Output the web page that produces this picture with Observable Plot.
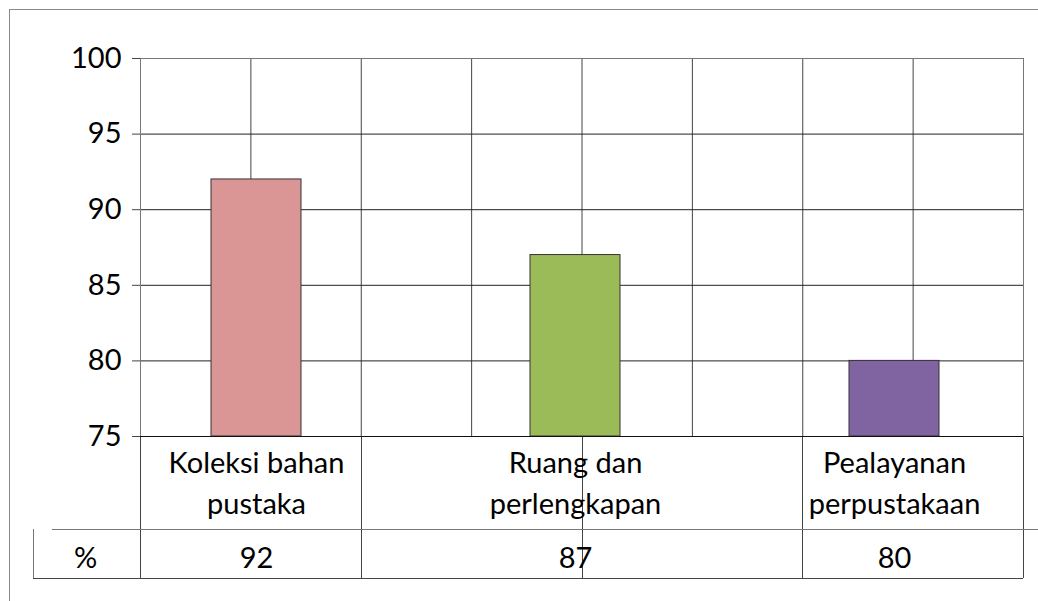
<!DOCTYPE html>
<html>
<head>
<meta charset="utf-8">
<script src="https://cdn.jsdelivr.net/npm/d3@7"></script>
<script src="https://cdn.jsdelivr.net/npm/@observablehq/plot@0.6"></script>
<style>
  html, body { margin: 0; padding: 0; background: #fff; }
  #wrap { position: relative; width: 1038px; height: 601px; overflow: hidden; font-family: Lato, "Noto Sans", sans-serif; }
  #wrap > svg { position: absolute; left: 0; top: 0; }
  #border { position: absolute; left: 9px; top: 9px; width: 1100px; height: 700px; border-left: 1px solid #888; border-top: 1px solid #888; }
</style>
</head>
<body>
<div id="wrap"><div id="border"></div></div>
<script>
// ---- data ----
const categories = ["Koleksi bahan pustaka", "Ruang dan perlengkapan", "Pealayanan perpustakaan"];
const labelLines = [["Koleksi bahan", "pustaka"], ["Ruang dan", "perlengkapan"], ["Pealayanan", "perpustakaan"]];
const values = [92, 87, 80];
const colors = ["#D99694", "#9BBB59", "#8064A2"];
const yTicks = [75, 80, 85, 90, 95, 100];
const rowLabel = "%";

const rows = categories.map((c, i) => ({category: c, label: labelLines[i].join("\n"), value: values[i], color: colors[i]}));

const W = 1038, H = 601;
const margins = {marginLeft: 140, marginRight: 15, marginTop: 58, marginBottom: 165};
const FONT = "Lato, 'Noto Sans', sans-serif";
const FS = 29;

// ---- background grid layer (vertical gridlines + table lines) ----
const grid = Plot.plot({
  width: W, height: H, ...margins,
  style: {background: "transparent", fontFamily: FONT},
  x: {domain: [0, 8], axis: null},
  y: {domain: [75, 100], axis: null},
  marks: [
    Plot.gridX({ticks: 8, stroke: "#444", strokeOpacity: 1})
  ]
});
{
  const xs = grid.scale("x"), ys = grid.scale("y");
  const svg = d3.select(grid);
  const top = ys.apply(75);
  const rowLine = top + 93, bottom = top + 142;
  const g = svg.append("g").attr("stroke", "#444").attr("stroke-width", 1);
  [0, 2, 4, 6, 8].forEach(v => {
    const x = Math.round(xs.apply(v)) + 0.5;
    g.append("line").attr("x1", x).attr("x2", x).attr("y1", top).attr("y2", bottom);
  });
  g.append("line").attr("x1", 52).attr("x2", W).attr("y1", rowLine + 0.5).attr("y2", rowLine + 0.5).attr("stroke", "#777");
  g.append("line").attr("x1", 33).attr("x2", xs.apply(8)).attr("y1", bottom + 0.5).attr("y2", bottom + 0.5);
  g.append("line").attr("x1", 33.5).attr("x2", 33.5).attr("y1", rowLine).attr("y2", bottom).attr("stroke", "#777");
}

// ---- main layer: bars, y axis, labels, values ----
const chart = Plot.plot({
  width: W, height: H, ...margins,
  style: {background: "transparent", fontFamily: FONT, fontSize: FS + "px", color: "#000"},
  x: {domain: categories, type: "band", paddingInner: 0.718, paddingOuter: 0.243, align: 0.46, axis: null},
  y: {domain: [75, 100], ticks: yTicks, axis: null},
  marks: [
    Plot.gridY(yTicks, {stroke: "#222", strokeOpacity: 1}),
    Plot.barY(rows, {x: "category", y1: 75, y2: "value", fill: "color", stroke: "#333", strokeWidth: 1}),
    Plot.axisY(yTicks, {label: null, tickSize: 8, tickPadding: 11, stroke: "#444", fontSize: FS, fill: "#000"}),
    Plot.frame({stroke: "#777"}),
    Plot.ruleY([75], {stroke: "#111"}),
    Plot.text(rows, {x: "category", text: "label", frameAnchor: "bottom", lineAnchor: "top", dy: 7, lineHeight: 1.42, fontSize: FS, fill: "#000"}),
    Plot.text(rows, {x: "category", text: d => String(d.value), frameAnchor: "bottom", dy: 131, fontSize: FS, fill: "#000"}),
    Plot.text([rowLabel], {text: d => d, frameAnchor: "bottom-left", textAnchor: "middle", dx: -55, dy: 131, fontSize: FS, fill: "#000"})
  ]
});

const wrap = document.getElementById("wrap");
wrap.appendChild(grid);
wrap.appendChild(chart);
</script>
</body>
</html>
